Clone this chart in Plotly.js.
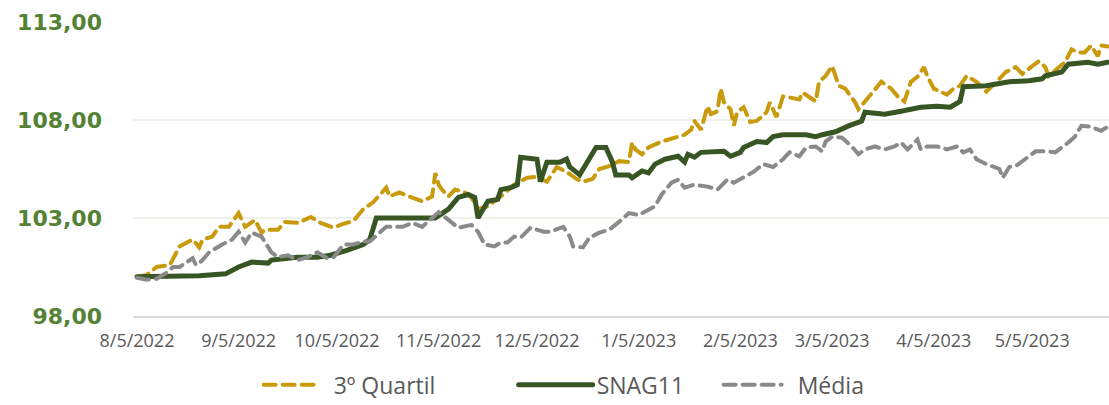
<!DOCTYPE html>
<html>
<head>
<meta charset="utf-8">
<script src="https://cdn.plot.ly/plotly-3.0.1.min.js"></script>
<style>
  html, body { margin: 0; padding: 0; background: #ffffff; }
  #chart { width: 1109px; height: 405px; }
</style>
</head>
<body>
<div id="chart"></div>
<script>
// ---- Data ----
const snagDates = ["2022-08-05","2022-08-14","2022-08-24","2022-09-01","2022-09-05","2022-09-09","2022-09-14","2022-09-15","2022-09-23","2022-09-29","2022-10-03","2022-10-08","2022-10-10","2022-10-13","2022-10-15","2022-10-17","2022-11-04","2022-11-08","2022-11-11","2022-11-14","2022-11-16","2022-11-17","2022-11-20","2022-11-23","2022-11-24","2022-11-27","2022-11-29","2022-11-30","2022-12-05","2022-12-06","2022-12-08","2022-12-12","2022-12-14","2022-12-15","2022-12-18","2022-12-21","2022-12-23","2022-12-26","2022-12-28","2022-12-29","2023-01-02","2023-01-03","2023-01-06","2023-01-08","2023-01-10","2023-01-13","2023-01-17","2023-01-19","2023-01-20","2023-01-22","2023-01-24","2023-01-31","2023-02-02","2023-02-05","2023-02-06","2023-02-10","2023-02-13","2023-02-15","2023-02-18","2023-02-25","2023-02-28","2023-03-02","2023-03-06","2023-03-10","2023-03-14","2023-03-15","2023-03-21","2023-03-26","2023-04-01","2023-04-06","2023-04-10","2023-04-13","2023-04-14","2023-04-21","2023-04-25","2023-04-28","2023-05-04","2023-05-08","2023-05-09","2023-05-14","2023-05-16","2023-05-22","2023-05-25","2023-05-28"];
const snagValues = [100.0,100.0,100.05,100.15,100.5,100.75,100.7,100.85,101.0,101.0,101.1,101.35,101.45,101.65,101.9,103.0,103.0,103.45,104.05,104.2,104.05,103.0,103.85,103.95,104.45,104.55,104.7,106.1,106.0,104.85,105.85,105.85,106.0,105.6,105.2,106.1,106.6,106.6,105.85,105.2,105.2,105.05,105.4,105.3,105.75,106.0,106.15,105.85,106.25,106.1,106.35,106.4,106.15,106.35,106.6,106.9,106.85,107.15,107.25,107.25,107.15,107.25,107.4,107.7,107.95,108.4,108.3,108.45,108.65,108.7,108.65,108.95,109.7,109.75,109.85,109.95,110.0,110.1,110.25,110.45,110.85,110.95,110.85,110.95];

const quartilDates = ["2022-08-05","2022-08-08","2022-08-11","2022-08-15","2022-08-18","2022-08-20","2022-08-22","2022-08-24","2022-08-25","2022-08-28","2022-08-30","2022-09-02","2022-09-05","2022-09-07","2022-09-10","2022-09-12","2022-09-13","2022-09-17","2022-09-19","2022-09-23","2022-09-27","2022-09-30","2022-10-04","2022-10-06","2022-10-10","2022-10-13","2022-10-16","2022-10-19","2022-10-20","2022-10-21","2022-10-24","2022-10-27","2022-10-31","2022-11-03","2022-11-04","2022-11-05","2022-11-06","2022-11-08","2022-11-10","2022-11-13","2022-11-15","2022-11-17","2022-11-20","2022-11-24","2022-11-28","2022-12-02","2022-12-05","2022-12-08","2022-12-11","2022-12-14","2022-12-17","2022-12-19","2022-12-22","2022-12-24","2022-12-27","2022-12-30","2023-01-02","2023-01-03","2023-01-04","2023-01-06","2023-01-08","2023-01-12","2023-01-16","2023-01-19","2023-01-21","2023-01-22","2023-01-24","2023-01-25","2023-01-26","2023-01-27","2023-01-29","2023-01-30","2023-01-31","2023-02-02","2023-02-03","2023-02-04","2023-02-06","2023-02-08","2023-02-10","2023-02-13","2023-02-14","2023-02-16","2023-02-18","2023-02-20","2023-02-23","2023-02-24","2023-02-28","2023-03-01","2023-03-03","2023-03-05","2023-03-07","2023-03-09","2023-03-12","2023-03-13","2023-03-15","2023-03-18","2023-03-20","2023-03-23","2023-03-25","2023-03-27","2023-03-29","2023-03-31","2023-04-02","2023-04-03","2023-04-05","2023-04-09","2023-04-11","2023-04-13","2023-04-15","2023-04-18","2023-04-21","2023-04-25","2023-04-27","2023-04-30","2023-05-02","2023-05-05","2023-05-07","2023-05-09","2023-05-10","2023-05-15","2023-05-17","2023-05-19","2023-05-21","2023-05-23","2023-05-25","2023-05-26","2023-05-28"];
const quartilValues = [100.0,100.1,100.5,100.6,101.55,101.75,101.9,101.5,101.9,102.05,102.55,102.55,103.25,102.55,102.9,102.25,102.4,102.4,102.8,102.75,103.05,102.75,102.5,102.65,102.85,103.45,103.8,104.35,104.55,104.1,104.3,104.1,103.85,104.1,105.3,104.7,104.45,104.1,104.45,104.3,104.05,103.45,103.6,104.1,104.7,105.05,105.1,104.85,105.6,105.35,105.0,104.85,105.0,105.5,105.65,105.9,105.85,106.85,106.5,106.25,106.6,106.9,107.1,107.25,107.5,107.95,107.5,108.2,108.7,108.3,108.45,109.6,108.9,108.55,107.7,108.4,108.65,107.9,107.95,108.4,108.9,108.15,109.2,109.15,109.05,109.4,108.95,109.95,110.25,110.75,109.75,109.6,108.9,108.55,108.95,109.6,109.95,109.6,109.2,108.95,109.95,110.2,110.7,110.25,109.6,109.3,109.6,109.75,110.25,109.95,109.45,110.1,110.45,110.7,110.35,110.75,111.0,110.7,110.25,110.95,111.6,111.45,111.45,111.8,111.25,111.8,111.75];

const mediaDates = ["2022-08-05","2022-08-08","2022-08-11","2022-08-14","2022-08-16","2022-08-18","2022-08-22","2022-08-23","2022-08-25","2022-08-27","2022-08-31","2022-09-03","2022-09-05","2022-09-07","2022-09-09","2022-09-12","2022-09-15","2022-09-17","2022-09-20","2022-09-23","2022-09-26","2022-09-29","2022-10-02","2022-10-04","2022-10-07","2022-10-10","2022-10-13","2022-10-15","2022-10-20","2022-10-25","2022-10-28","2022-10-31","2022-11-05","2022-11-07","2022-11-11","2022-11-15","2022-11-17","2022-11-19","2022-11-22","2022-11-24","2022-11-26","2022-11-28","2022-11-30","2022-12-03","2022-12-07","2022-12-09","2022-12-13","2022-12-15","2022-12-16","2022-12-19","2022-12-21","2022-12-24","2022-12-27","2022-12-30","2023-01-02","2023-01-05","2023-01-08","2023-01-10","2023-01-12","2023-01-15","2023-01-17","2023-01-19","2023-01-22","2023-01-26","2023-01-29","2023-02-01","2023-02-03","2023-02-06","2023-02-09","2023-02-12","2023-02-15","2023-02-18","2023-02-20","2023-02-23","2023-02-25","2023-02-28","2023-03-02","2023-03-03","2023-03-05","2023-03-08","2023-03-11","2023-03-13","2023-03-15","2023-03-18","2023-03-21","2023-03-24","2023-03-26","2023-03-28","2023-03-31","2023-04-01","2023-04-03","2023-04-06","2023-04-09","2023-04-12","2023-04-14","2023-04-16","2023-04-18","2023-04-21","2023-04-25","2023-04-26","2023-04-28","2023-04-30","2023-05-04","2023-05-06","2023-05-09","2023-05-12","2023-05-16","2023-05-18","2023-05-20","2023-05-23","2023-05-26","2023-05-28"];
const mediaValues = [99.95,99.85,99.9,100.2,100.5,100.5,100.95,100.6,100.85,101.25,101.65,101.9,102.3,101.75,102.25,102.05,101.25,101.0,101.1,100.85,101.0,101.25,100.95,101.0,101.65,101.65,101.8,101.8,102.55,102.55,102.75,102.55,103.3,103.05,102.5,102.65,102.3,101.65,101.55,101.75,101.75,102.05,102.0,102.5,102.3,102.3,102.55,102.05,101.55,101.5,102.0,102.25,102.4,102.8,103.25,103.15,103.4,103.6,104.2,104.8,104.95,104.55,104.7,104.6,104.45,104.95,104.8,105.1,105.35,105.75,105.6,106.0,106.35,106.15,106.6,106.65,106.4,106.9,107.15,107.1,106.65,106.25,106.5,106.65,106.5,106.65,106.85,106.5,107.0,106.5,106.65,106.65,106.5,106.65,106.35,106.5,106.0,105.75,105.5,105.05,105.6,105.65,106.15,106.4,106.4,106.35,106.85,107.15,107.7,107.65,107.45,107.65];

const tickDates = ["2022-08-05","2022-09-05","2022-10-05","2022-11-05","2022-12-05","2023-01-05","2023-02-05","2023-03-05","2023-04-05","2023-05-05"];
const tickLabels = ["8/5/2022","9/5/2022","10/5/2022","11/5/2022","12/5/2022","1/5/2023","2/5/2023","3/5/2023","4/5/2023","5/5/2023"];
const yTicks = [98, 103, 108, 113];

const seriesNames = ["3º Quartil", "SNAG11", "Média"];

// ---- Chart ----
const traces = [
  {
    x: quartilDates, y: quartilValues, name: seriesNames[0], type: "scatter", mode: "lines",
    line: { color: "#C99A0C", width: 4, dash: "12px,7px" }, legendwidth: 180
  },
  {
    x: snagDates, y: snagValues, name: seriesNames[1], type: "scatter", mode: "lines",
    line: { color: "#375623", width: 5 }, legendwidth: 130
  },
  {
    x: mediaDates, y: mediaValues, name: seriesNames[2], type: "scatter", mode: "lines",
    line: { color: "#8A8A8A", width: 4, dash: "12px,7px" }, legendwidth: 90
  }
];

const layout = {
  width: 1109,
  height: 405,
  margin: { l: 133, r: 0, t: 22, b: 89, autoexpand: false },
  paper_bgcolor: "#ffffff",
  plot_bgcolor: "#ffffff",
  separators: ",.",
  showlegend: true,
  legend: {
    orientation: "h",
    x: 0.452, xanchor: "center",
    yref: "container",
    y: 0.05, yanchor: "middle",
    font: { family: "Open Sans, Lato, sans-serif", size: 23, color: "#595959" },
    itemwidth: 60,
    traceorder: "normal"
  },
  xaxis: {
    type: "date",
    range: ["2022-08-03 19:00", "2023-05-28 10:00"],
    tickmode: "array",
    tickvals: tickDates,
    ticktext: tickLabels,
    tickangle: 0,
    showgrid: false,
    showline: true,
    linecolor: "#d9d9d9",
    linewidth: 1.5,
    ticks: "",
    ticklabelstandoff: 8,
    tickfont: { family: "Open Sans, Lato, sans-serif", size: 18, color: "#595959" },
    zeroline: false,
    fixedrange: true
  },
  yaxis: {
    range: [98, 113],
    tickmode: "array",
    tickvals: yTicks,
    tickformat: ".2f",
    showgrid: true,
    gridcolor: "#eef2ea",
    gridwidth: 1.5,
    zeroline: false,
    showline: false,
    ticks: "",
    ticklabelstandoff: 30,
    tickfont: { family: "DejaVu Sans, sans-serif", size: 22, color: "#548235", weight: 700 },
    fixedrange: true
  }
};

Plotly.newPlot("chart", traces, layout, { displayModeBar: false, staticPlot: true }).then(() => {
  document.querySelectorAll(".js-line").forEach(p => {
    p.style.strokeLinecap = "round";
  });
  const sampleLen = [54, 74, 58];
  const textX = [72, 80, 76];
  document.querySelectorAll(".legend .traces").forEach((g, i) => {
    const p = g.querySelector(".legendlines path");
    if (p) {
      p.setAttribute("d", "M2,0h" + sampleLen[i]);
      p.style.strokeLinecap = "round";
    }
    const t = g.querySelector(".legendtext");
    if (t) t.setAttribute("x", String(textX[i]));
  });
});
</script>
</body>
</html>
